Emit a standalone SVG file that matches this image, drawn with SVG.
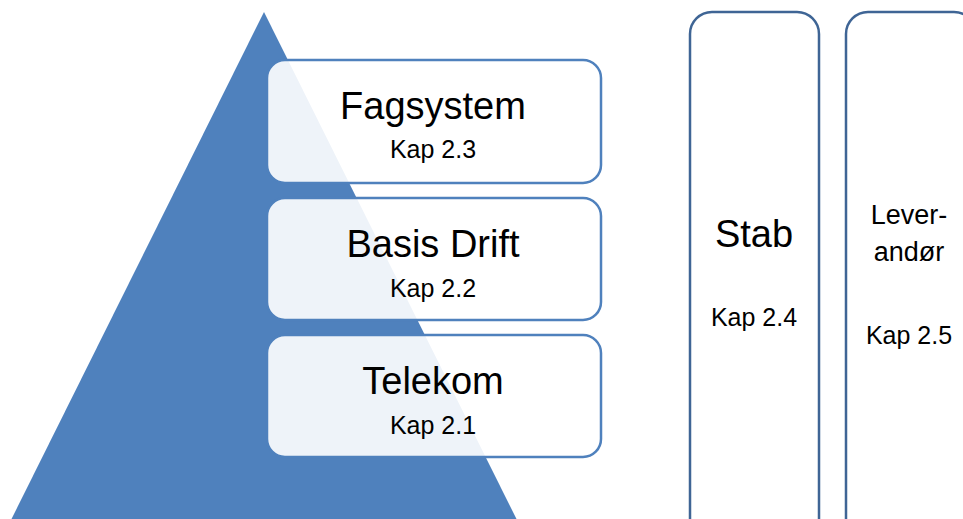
<svg xmlns="http://www.w3.org/2000/svg" width="963" height="519" viewBox="0 0 963 519">
  <style>
    .layer { fill: #ffffff; fill-opacity: 0.9; stroke: #4F81BD; stroke-width: 2.5; }
    .column { fill: #ffffff; stroke: #3F6595; stroke-width: 2.5; }
    .title { font-family: "Liberation Sans", Arial, sans-serif; font-size: 38px; fill: #000000; text-anchor: middle; }
    .sub { font-family: "Liberation Sans", Arial, sans-serif; font-size: 25px; fill: #000000; text-anchor: middle; }
    .mid { font-family: "Liberation Sans", Arial, sans-serif; font-size: 27px; fill: #000000; text-anchor: middle; }
  </style>
  <rect width="963" height="519" fill="#ffffff"/>

  <!-- pyramid background -->
  <g id="pyramid">
    <polygon points="264,12 518,522 10,522" fill="#4F81BD"/>
  </g>

  <g id="connectors"/>

  <!-- stacked layers -->
  <g id="fagsystem">
    <rect class="layer" x="267" y="60" width="334" height="123" rx="18"/>
    <text class="title" x="433" y="119">Fagsystem</text>
    <text class="sub" x="433" y="158">Kap 2.3</text>
  </g>
  <g id="basis-drift">
    <rect class="layer" x="267" y="198" width="334" height="122" rx="18"/>
    <text class="title" x="433" y="257">Basis Drift</text>
    <text class="sub" x="433" y="297">Kap 2.2</text>
  </g>
  <g id="telekom">
    <rect class="layer" x="267" y="335" width="334" height="122" rx="18"/>
    <text class="title" x="433" y="394">Telekom</text>
    <text class="sub" x="433" y="434">Kap 2.1</text>
  </g>

  <!-- side columns -->
  <g id="stab">
    <rect class="column" x="690" y="12" width="129" height="530" rx="22"/>
    <text class="title" x="754" y="247">Stab</text>
    <text class="sub" x="754" y="326">Kap 2.4</text>
  </g>
  <g id="leverandor">
    <rect class="column" x="846" y="12" width="130" height="530" rx="22"/>
    <text class="mid" x="909" y="224">Lever-</text>
    <text class="mid" x="909" y="261">andør</text>
    <text class="sub" x="909" y="344">Kap 2.5</text>
  </g>
</svg>
